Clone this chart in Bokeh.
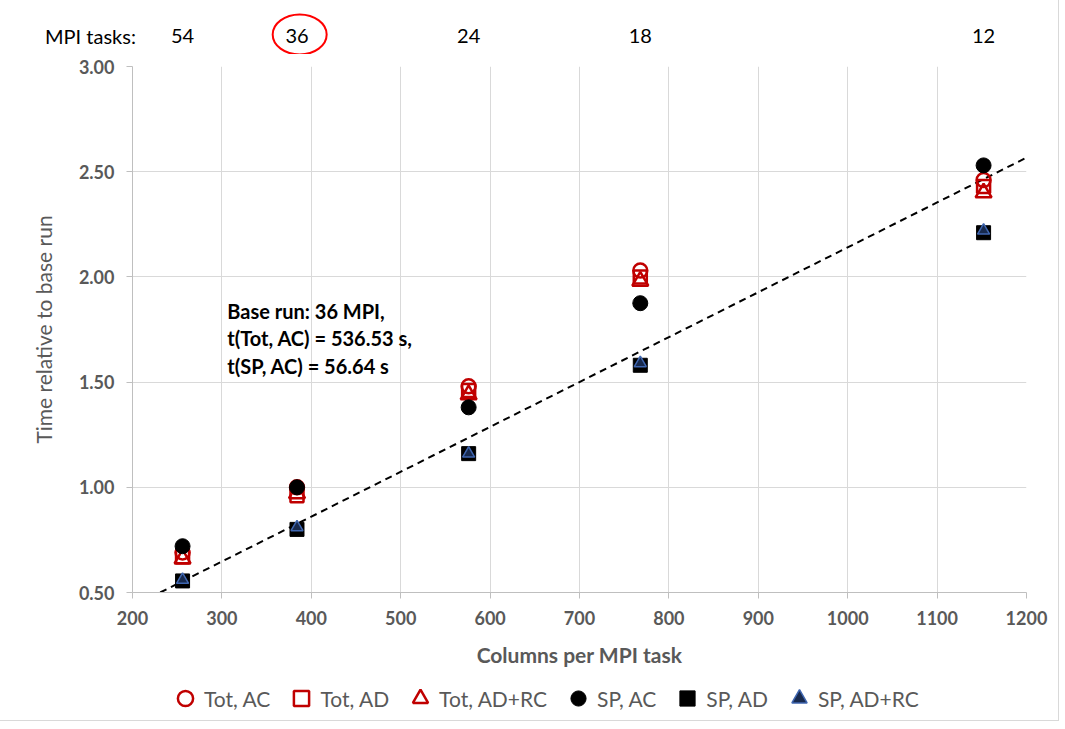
from bokeh.plotting import figure
from bokeh.layouts import column
from bokeh.models import (Range1d, FixedTicker, Label, Legend, LegendItem, NumeralTickFormatter)
from bokeh.core.properties import value
from bokeh.embed import file_html
from bokeh.resources import INLINE

# ---- data ----
columns = [256, 384, 576, 768, 1152]
mpi_tasks = ["54", "36", "24", "18", "12"]
tot_ac = [0.69, 1.00, 1.48, 2.03, 2.46]
tot_ad = [0.67, 0.96, 1.46, 2.00, 2.43]
tot_adrc = [0.66, 0.97, 1.44, 1.98, 2.40]
sp_ac = [0.72, 1.00, 1.38, 1.875, 2.53]
sp_ad = [0.555, 0.80, 1.16, 1.58, 2.21]
sp_adrc = [0.56, 0.81, 1.16, 1.59, 2.22]
ideal_x = [231, 1200]
ideal_y = [0.50, 2.567]
x_ticks = [200, 300, 400, 500, 600, 700, 800, 900, 1000, 1100, 1200]
y_ticks = [0.5, 1.0, 1.5, 2.0, 2.5, 3.0]
base_note = ["Base run: 36 MPI,", "t(Tot, AC) = 536.53 s,", "t(SP, AC) = 56.64 s"]
series_names = ["Tot, AC", "Tot, AD", "Tot, AD+RC", "SP, AC", "SP, AD", "SP, AD+RC"]

FONT = "Lato"
GRAY = "#595959"
RED = "#C00000"

W = 1058
LEFT, RIGHT = 132, 32
XMIN, XMAX = 200, 1200
scale = (W - LEFT - RIGHT) / (XMAX - XMIN)
hx_range = Range1d(XMIN - LEFT / scale, XMAX + RIGHT / scale)

styles = [
    dict(marker="circle", size=14, fill_color=None, line_color=RED, line_width=2.5),
    dict(marker="square", size=13, fill_color=None, line_color=RED, line_width=2.5),
    dict(marker="triangle", size=16, fill_color=None, line_color=RED, line_width=2.5),
    dict(marker="circle", size=15, fill_color="black", line_color="black"),
    dict(marker="square", size=14, fill_color="black", line_color="black"),
    dict(marker="triangle", size=12, fill_color="#182a4e", line_color="#3f66b0", line_width=1.5),
]


def bare(fig):
    fig.outline_line_color = None
    fig.min_border_left = fig.min_border_right = 0
    fig.min_border_top = fig.min_border_bottom = 0
    fig.border_fill_color = "white"
    fig.background_fill_color = "white"
    fig.grid.visible = False
    fig.frame_align = False


# ---- header: MPI task counts ----
HH = 54
head = figure(width=W, height=HH, x_range=hx_range, y_range=Range1d(0, HH),
              output_backend="svg", toolbar_location=None,
              x_axis_location=None, y_axis_location=None)
bare(head)
ty = HH - 35
head.text(x=columns, y=[ty] * len(columns), text=mpi_tasks, text_font=value(FONT),
          text_font_size="20px", text_align="center", text_baseline="middle", text_color="black")
head.text(x=[153], y=[ty], text=["MPI tasks:"], text_font=value(FONT), text_font_size="20px",
          text_align="center", text_baseline="middle", text_color="black")
head.ellipse(x=[columns[1] + 3], y=[ty + 1], width=54, height=40, width_units="screen",
             height_units="screen", fill_color=None, line_color="#FF0000", line_width=2)

# ---- main plot ----
p = figure(width=W, height=12 + 526 + 84, x_range=Range1d(XMIN, XMAX), y_range=Range1d(0.5, 3.0),
           output_backend="svg", toolbar_location=None,
           min_border_left=LEFT, min_border_right=RIGHT, min_border_top=12, min_border_bottom=84,
           x_axis_label="Columns per MPI task", y_axis_label="Time relative to base run")
p.outline_line_color = None
p.background_fill_color = "white"
p.border_fill_color = "white"
p.frame_align = False

p.xaxis.ticker = FixedTicker(ticks=x_ticks)
p.yaxis.ticker = FixedTicker(ticks=y_ticks)
p.yaxis.formatter = NumeralTickFormatter(format="0.00")
for ax in (p.xaxis, p.yaxis):
    ax.axis_line_color = "#BFBFBF"
    ax.major_tick_line_color = "#BFBFBF"
    ax.major_tick_out = 6
    ax.major_tick_in = 0
    ax.minor_tick_line_color = None
    ax.major_label_text_font = FONT
    ax.major_label_text_font_size = "18px"
    ax.major_label_text_font_style = "bold"
    ax.major_label_text_color = GRAY
    ax.axis_label_text_font = FONT
    ax.axis_label_text_color = GRAY
p.xaxis.major_label_standoff = 12
p.xaxis.axis_label_standoff = 14
p.xaxis.axis_label_text_font_size = "21px"
p.xaxis.axis_label_text_font_style = "bold"
p.yaxis.major_label_standoff = 12
p.yaxis.axis_label_standoff = 20
p.yaxis.axis_label_text_font_size = "21px"
p.yaxis.axis_label_text_font_style = "normal"
p.grid.grid_line_color = "#D9D9D9"
p.grid.grid_line_width = 1

p.line(ideal_x, ideal_y, line_color="black", line_width=2, line_dash="7 5")

for ys, st in zip([tot_ac, tot_ad, tot_adrc, sp_ac, sp_ad, sp_adrc], styles):
    p.scatter(columns, ys, **st)

for i, line in enumerate(base_note):
    p.add_layout(Label(x=306, y=1.840 - i * 0.1315, text=line, text_font=FONT, text_font_size="20px",
                       text_font_style="bold", text_color="black", text_baseline="middle"))

# ---- footer: legend ----
foot = figure(width=W, height=44, x_range=Range1d(0, 1), y_range=Range1d(0, 1),
              output_backend="svg", toolbar_location=None,
              x_axis_location=None, y_axis_location=None)
bare(foot)
items = []
for name, st in zip(series_names, styles):
    r = foot.scatter([-5], [-5], **st)
    items.append(LegendItem(label=name, renderers=[r]))
legend = Legend(items=items, orientation="horizontal", location=(166, 3),
                label_text_font=FONT, label_text_font_size="21px", label_text_color=GRAY,
                glyph_width=38, glyph_height=38, label_standoff=-7, spacing=12,
                border_line_color=None, background_fill_alpha=0, padding=0, margin=0)
foot.add_layout(legend)

layout = column(head, p, foot)
layout.styles = {"outline": "1px solid #D9D9D9"}

open("out.html", "w").write(file_html(layout, INLINE))
